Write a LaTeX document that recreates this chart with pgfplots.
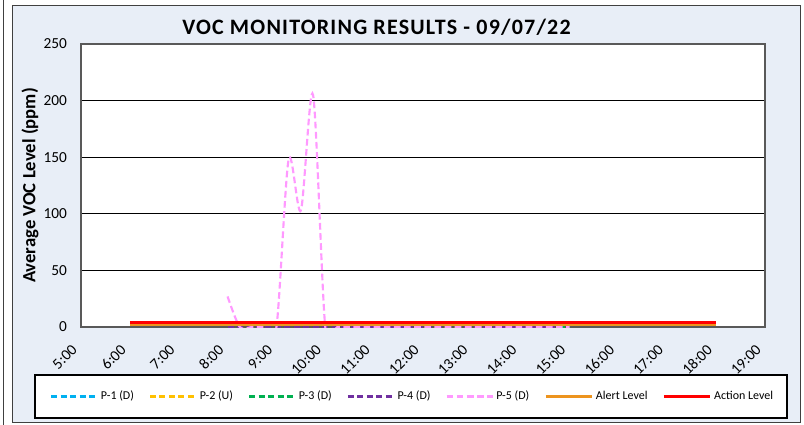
\documentclass[border=0pt]{standalone}
\usepackage{fontspec}
\setmainfont{Carlito}
\usepackage{pgfplots}
\pgfplotsset{compat=1.18}
\definecolor{bgblue}{RGB}{232,238,247}
\definecolor{cP1}{HTML}{00B0F0}
\definecolor{cP2}{HTML}{FFC000}
\definecolor{cP3}{HTML}{00B050}
\definecolor{cP4}{HTML}{7030A0}
\definecolor{cP5}{HTML}{FF99FF}
\definecolor{cAlert}{RGB}{237,148,30}
\definecolor{cAction}{HTML}{FF0000}
\begin{document}
\begin{tikzpicture}
\begin{scope}[x=0.75pt,y=-0.75pt]
\useasboundingbox (0,0) rectangle (804,425);
\fill[bgblue] (12,5) rectangle (800,422);
\draw[black!75, line width=0.6pt] (12,5) rectangle (800,422);
\draw[black!75, line width=0.6pt] (3.5,0) -- (3.5,425);
\draw[black, line width=0.9pt, fill=white] (35,375) rectangle (787,418);
\node[font=\bfseries\fontsize{16.5}{19}\selectfont\addfontfeatures{LetterSpace=5.5}] at (376.5,27.5) {VOC MONITORING RESULTS - 09/07/22};
\end{scope}
\begin{axis}[
  at={(60.75pt,-245.25pt)}, anchor=south west,
  scale only axis, width=513pt, height=212.25pt,
  xmin=5, xmax=19, ymin=0, ymax=250,
  xtick={5,6,...,19},
  xticklabel={\pgfmathtruncatemacro\hh{\tick}\hh:00},
  ytick={0,50,...,250},
  /pgf/number format/assume math mode=true,
  ymajorgrids,
  major grid style={black, line width=0.9pt},
  axis line style={draw=black!65, line width=0.8pt},
  major tick length=0pt,
  axis background/.style={fill=white},
  xticklabel style={xshift=-2.5pt, yshift=-12.8pt, rotate=45, anchor=east, font=\fontsize{11.5}{13}\selectfont},
  yticklabel style={font=\fontsize{11.5}{13}\selectfont, xshift=-7pt},
  ylabel={Average VOC Level (ppm)},
  every axis y label/.style={at={(axis description cs:-0.0746,0.5)}, rotate=90, anchor=center, font=\bfseries\fontsize{14}{16}\selectfont},
  legend columns=7,
  legend style={at={(0.4854,-0.2456)}, anchor=center, draw=none, fill=none,
    font=\fontsize{9}{11}\selectfont,
    /tikz/every even column/.append style={column sep=9.25pt}},
  legend image code/.code={\draw[#1] (0pt,0pt) -- (34.5pt,0pt);},
  every axis plot/.append style={line cap=butt},
]
\addplot[cP1, line width=1.6pt, dash pattern=on 4.5pt off 2.6pt] coordinates {
(8,0) (8.25,0) (8.5,0) (8.75,0) (9,0) (9.25,0) (9.5,0) (9.75,0) (10,0) (11,0) (12,0) (13,0) (14,0) (15,0)};
\addlegendentry{P-1 (D)}
\addplot[cP2, line width=1.6pt, dash pattern=on 4.5pt off 2.6pt] coordinates {
(8,0) (9,0) (10,0) (11,0) (12,0) (13,0) (14,0) (15,0)};
\addlegendentry{P-2 (U)}
\addplot[cP3, line width=1.6pt, dash pattern=on 4.5pt off 2.6pt] coordinates {
(8,0) (9,0) (10,0) (11,0) (12,0) (13,0) (14,0) (15,0)};
\addlegendentry{P-3 (D)}
\addplot[cP4, line width=1.6pt, dash pattern=on 4.5pt off 2.6pt] coordinates {
(8,0) (8.25,0) (8.5,0) (8.75,0) (9,0) (9.25,0) (9.5,0) (9.75,0) (10,0) (11,0) (12,0) (13,0) (14,0) (14.85,0)};
\addlegendentry{P-4 (D)}
\addplot[cP5, line width=1.6pt, dash pattern=on 5pt off 2.6pt, smooth] coordinates {
(8,27) (8.25,0) (8.5,0) (8.75,0) (9,0) (9.25,148) (9.5,103) (9.75,205) (10,0) (10.25,0) (10.5,0) (11,0) (12,0) (13,0) (14,0) (15,0)};
\addlegendentry{P-5 (D)}
\addplot[cAlert, line width=2.2pt] coordinates {(6,2) (18,2)};
\addlegendentry{Alert Level}
\addplot[cAction, line width=2.2pt] coordinates {(6,4) (18,4)};
\addlegendentry{Action Level}
\end{axis}
\end{tikzpicture}
\end{document}
